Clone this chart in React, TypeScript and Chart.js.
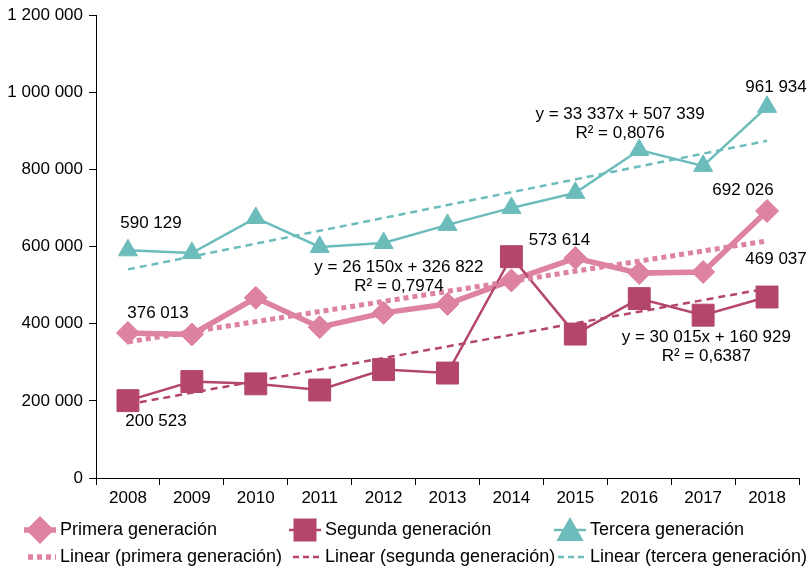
import React, { useEffect, useRef } from 'react';
import { Chart, registerables } from 'chart.js';

Chart.register(...registerables);

// ---------- data ----------
const years = ['2008', '2009', '2010', '2011', '2012', '2013', '2014', '2015', '2016', '2017', '2018'];
const primera = [376013, 372000, 467000, 391000, 428000, 451000, 512000, 570000, 531000, 534000, 692026];
const segunda = [200523, 250000, 244000, 228000, 281000, 272000, 573614, 373000, 465000, 422000, 469037];
const tercera = [590129, 583000, 674000, 599000, 609000, 656000, 700000, 739000, 850000, 809000, 961934];

// trend line equations as printed on the chart (y = a·x + b, x = 1..11)
const trendSlopes = [26150, 30015, 33337];
const trendIntercepts = [326822, 160929, 507339];
const trendR2 = ['0,7974', '0,6387', '0,8076'];

const seriesNames = ['Primera generación', 'Segunda generación', 'Tercera generación'];
const trendNames = ['Linear (primera generación)', 'Linear (segunda generación)', 'Linear (tercera generación)'];

const yMin = 0;
const yMax = 1200000;
const yStep = 200000;

// ---------- styles ----------
const COLORS = ['#dd82a1', '#b4466b', '#6cbcbc'];
const FONT = '"Liberation Sans", Arial, Helvetica, sans-serif';
const FONT_SIZE = 17;
const LEGEND_FONT_SIZE = 18;

const fmt = (v: number) => Math.round(v).toString().replace(/\B(?=(\d{3})+(?!\d))/g, ' ');

const seriesData = [primera, segunda, tercera];
const trendData = trendSlopes.map((a, s) => years.map((_, i) => a * (i + 1) + trendIntercepts[s]));

// value labels: series index, category index, pixel offset of label centre
const pointLabels = [
  { s: 2, i: 0, dx: 23, dy: -27 },
  { s: 0, i: 0, dx: 30, dy: -20 },
  { s: 1, i: 0, dx: 28, dy: 21 },
  { s: 1, i: 6, dx: 48, dy: -16 },
  { s: 0, i: 10, dx: -24, dy: -21 },
  { s: 1, i: 10, dx: 9, dy: -38 },
  { s: 2, i: 10, dx: 9, dy: -20 },
];

// equation label anchors in data space (category position, value)
const eqLabels = [
  { s: 0, x: 4.24, v: 547000 },
  { s: 1, x: 9.05, v: 365000 },
  { s: 2, x: 7.7, v: 943000 },
];

function drawMarker(ctx: CanvasRenderingContext2D, kind: number, x: number, y: number, r: number, color: string) {
  ctx.save();
  ctx.fillStyle = color;
  ctx.beginPath();
  if (kind === 0) {
    ctx.moveTo(x, y - r);
    ctx.lineTo(x + r, y);
    ctx.lineTo(x, y + r);
    ctx.lineTo(x - r, y);
  } else if (kind === 1) {
    ctx.rect(x - r, y - r, 2 * r, 2 * r);
  } else {
    ctx.moveTo(x, y - r);
    ctx.lineTo(x + r * 1.05, y + r * 0.85);
    ctx.lineTo(x - r * 1.05, y + r * 0.85);
  }
  ctx.closePath();
  ctx.fill();
  ctx.restore();
}

const labelsPlugin = {
  id: 'customLabels',
  afterDatasetsDraw(chart: any) {
    const ctx: CanvasRenderingContext2D = chart.ctx;
    const xs = chart.scales.x;
    const ys = chart.scales.y;
    ctx.save();
    ctx.fillStyle = '#000';
    ctx.font = `${FONT_SIZE}px ${FONT}`;
    ctx.textAlign = 'center';
    ctx.textBaseline = 'middle';
    pointLabels.forEach((l) => {
      const v = seriesData[l.s][l.i];
      const px = xs.getPixelForValue(l.i);
      const py = ys.getPixelForValue(v);
      ctx.fillText(fmt(v), px + l.dx, py + l.dy);
    });
    eqLabels.forEach((e) => {
      const px = xs.getPixelForValue(e.x);
      const py = ys.getPixelForValue(e.v);
      ctx.fillText(`y = ${fmt(trendSlopes[e.s])}x + ${fmt(trendIntercepts[e.s])}`, px, py);
      ctx.fillText(`R² = ${trendR2[e.s]}`, px, py + 19);
    });
    ctx.restore();
  },
  afterDraw(chart: any) {
    const ctx: CanvasRenderingContext2D = chart.ctx;
    const colMarker = [40, 305, 570];
    const colText = [60, 325, 590];
    const row1 = 530;
    const row2 = 557;
    const lineW = [5.5, 2.5, 2.5];
    const markerR = [14, 11.5, 13];
    const dashes = [[5, 4], [6, 4], [6, 4]];
    ctx.save();
    ctx.font = `${LEGEND_FONT_SIZE}px ${FONT}`;
    ctx.textAlign = 'left';
    ctx.textBaseline = 'middle';
    for (let s = 0; s < 3; s++) {
      const cx = colMarker[s];
      // row 1: line + marker
      ctx.strokeStyle = COLORS[s];
      ctx.lineWidth = lineW[s];
      ctx.setLineDash([]);
      ctx.beginPath();
      ctx.moveTo(cx - 16, row1);
      ctx.lineTo(cx + 16, row1);
      ctx.stroke();
      drawMarker(ctx, s, cx, row1, markerR[s], COLORS[s]);
      ctx.fillStyle = '#000';
      ctx.fillText(seriesNames[s], colText[s], row1);
      // row 2: dashed trend line
      ctx.strokeStyle = COLORS[s];
      ctx.lineWidth = s === 0 ? 5.5 : 2.5;
      ctx.setLineDash(dashes[s]);
      ctx.beginPath();
      ctx.moveTo(cx - 12, row2);
      ctx.lineTo(cx + 16, row2);
      ctx.stroke();
      ctx.setLineDash([]);
      ctx.fillStyle = '#000';
      ctx.fillText(trendNames[s], colText[s], row2);
    }
    ctx.restore();
  },
};

export default function App() {
  const ref = useRef<HTMLCanvasElement | null>(null);

  useEffect(() => {
    if (!ref.current) return;
    const pointStyles = ['rectRot', 'rect', 'triangle'];
    const pointRadii = [11.5, 15.5, 11];
    const lineWidths = [5.5, 2.5, 2.5];
    const seriesOrder = [3, 2, 1];

    const datasets: any[] = [];
    for (let s = 0; s < 3; s++) {
      datasets.push({
        label: trendNames[s],
        data: trendData[s],
        borderColor: COLORS[s],
        borderWidth: s === 0 ? 5 : 2.5,
        borderDash: s === 0 ? [5, 4] : [7, 5],
        pointRadius: 0,
        fill: false,
        tension: 0,
        order: 0,
      });
    }
    for (let s = 0; s < 3; s++) {
      datasets.push({
        label: seriesNames[s],
        data: seriesData[s],
        borderColor: COLORS[s],
        backgroundColor: COLORS[s],
        borderWidth: lineWidths[s],
        pointStyle: pointStyles[s],
        pointRadius: pointRadii[s],
        pointBorderWidth: 1,
        pointBorderColor: COLORS[s],
        pointBackgroundColor: COLORS[s],
        fill: false,
        tension: 0,
        order: seriesOrder[s],
      });
    }

    const tickFont = { family: FONT, size: FONT_SIZE };
    const chart = new Chart(ref.current, {
      type: 'line',
      data: { labels: years, datasets },
      options: {
        responsive: false,
        animation: false,
        layout: { autoPadding: false, padding: { top: 15, right: 11, left: 0, bottom: 0 } },
        plugins: { legend: { display: false }, tooltip: { enabled: false } },
        scales: {
          x: {
            offset: true,
            grid: { offset: true, drawOnChartArea: false, drawTicks: true, tickLength: 7, color: '#000', lineWidth: 1 },
            border: { display: true, color: '#000', width: 1 },
            ticks: { color: '#000', font: tickFont, padding: 3, maxRotation: 0, autoSkip: false },
            afterFit: (sc: any) => {
              sc.height = 93;
              sc.paddingLeft = 0;
              sc.paddingRight = 0;
            },
          },
          y: {
            min: yMin,
            max: yMax,
            ticks: { stepSize: yStep, color: '#000', font: tickFont, padding: 6, callback: (v: any) => fmt(Number(v)) },
            grid: { drawOnChartArea: false, drawTicks: true, tickLength: 7, color: '#000', lineWidth: 1 },
            border: { display: true, color: '#000', width: 1 },
            afterFit: (sc: any) => {
              sc.width = 96;
              sc.paddingTop = 0;
              sc.paddingBottom = 0;
            },
          },
        },
      } as any,
      plugins: [labelsPlugin],
    });
    return () => chart.destroy();
  }, []);

  return (
    <div style={{ position: 'fixed', left: 0, top: 0, width: 810, height: 571, background: '#fff' }}>
      <canvas ref={ref} width={810} height={571} style={{ display: 'block', width: 810, height: 571 }} />
    </div>
  );
}
